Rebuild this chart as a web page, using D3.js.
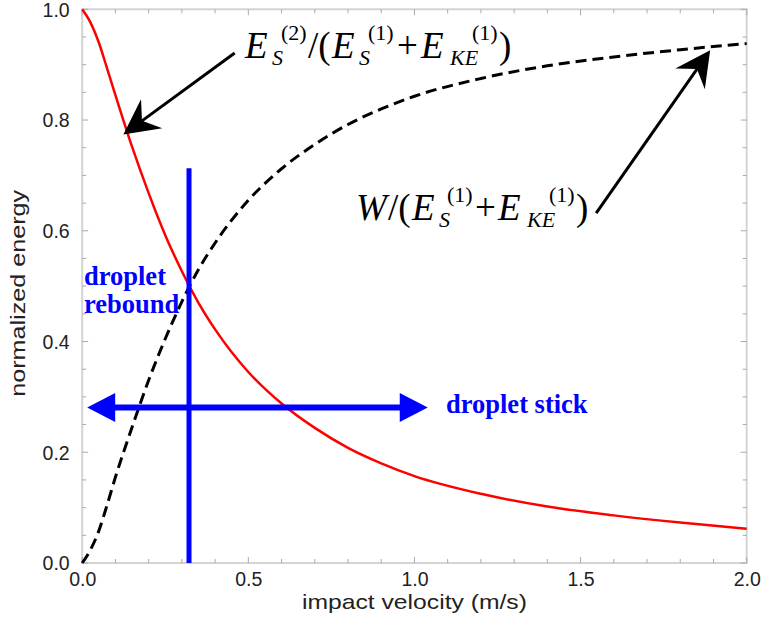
<!DOCTYPE html>
<html>
<head>
<meta charset="utf-8">
<script src="https://cdn.jsdelivr.net/npm/d3@7"></script>
<style>
  html, body { margin: 0; padding: 0; background: #fff; }
  svg { display: block; }
</style>
</head>
<body>
<svg id="chart" width="762" height="623"></svg>
<script>
// Impact velocity samples (m/s)
const velocity = [0, 0.025, 0.05, 0.075, 0.1, 0.15, 0.2, 0.25, 0.3, 0.35, 0.4, 0.5, 0.6, 0.7, 0.8, 0.9, 1.0, 1.2, 1.4, 1.6, 1.8, 2.0];
// Surface energy after impact, normalized by initial surface + kinetic energy
const surfaceRatio = [1.0, 0.976, 0.94, 0.893, 0.845, 0.752, 0.668, 0.592, 0.527, 0.47, 0.422, 0.345, 0.288, 0.244, 0.208, 0.18, 0.157, 0.125, 0.102, 0.086, 0.073, 0.062];
// Work done, normalized by initial surface + kinetic energy
const workRatio = [0.0, 0.024, 0.058, 0.105, 0.155, 0.245, 0.33, 0.405, 0.472, 0.53, 0.578, 0.655, 0.712, 0.756, 0.792, 0.82, 0.843, 0.875, 0.898, 0.914, 0.927, 0.938];

const xTickValues = [0, 0.5, 1.0, 1.5, 2.0];
const xTickLabels = ["0.0", "0.5", "1.0", "1.5", "2.0"];
const yTickValues = [0, 0.2, 0.4, 0.6, 0.8, 1.0];
const yTickLabels = ["0.0", "0.2", "0.4", "0.6", "0.8", "1.0"];

// Regime boundary: rebound / stick
const boundaryVelocity = [0.3215];
const boundaryTop = [0.713];
const stickArrowLevel = [0.281];
const stickArrowSpan = [0.015, 1.04];

const svg = d3.select("#chart");
const x = d3.scaleLinear().domain([0, 2]).range([82.2, 746.7]);
const y = d3.scaleLinear().domain([0, 1]).range([563, 9.3]);

const frameColor = "#d4d4d4";
const tickColor = "#aaaaaa";

// Plot frame
svg.append("rect")
  .attr("x", x(0)).attr("y", y(1))
  .attr("width", x(2) - x(0)).attr("height", y(0) - y(1))
  .attr("fill", "none").attr("stroke", frameColor).attr("stroke-width", 2);

// Minor / major ticks on all four sides, pointing inward
const xMinor = d3.range(0, 2.0001, 0.1);
const yMinor = d3.range(0, 1.0001, 0.05);
const tickG = svg.append("g").attr("stroke", tickColor).attr("stroke-width", 1);
xMinor.forEach(v => {
  const major = Math.abs(v * 2 - Math.round(v * 2)) < 1e-6;
  const len = major ? 6 : 4;
  tickG.append("line").attr("x1", x(v)).attr("x2", x(v)).attr("y1", y(0)).attr("y2", y(0) - len);
  tickG.append("line").attr("x1", x(v)).attr("x2", x(v)).attr("y1", y(1)).attr("y2", y(1) + len);
});
yMinor.forEach(v => {
  const major = Math.abs(v * 5 - Math.round(v * 5)) < 1e-6;
  const len = major ? 6 : 4;
  tickG.append("line").attr("y1", y(v)).attr("y2", y(v)).attr("x1", x(0)).attr("x2", x(0) + len);
  tickG.append("line").attr("y1", y(v)).attr("y2", y(v)).attr("x1", x(2)).attr("x2", x(2) - len);
});

// Axes (labels only; the frame draws the lines)
const xAxis = d3.axisBottom(x).tickValues(xTickValues).tickFormat((d, i) => xTickLabels[i]).tickSize(0).tickPadding(0);
const yAxis = d3.axisLeft(y).tickValues(yTickValues).tickFormat((d, i) => yTickLabels[i]).tickSize(0).tickPadding(0);

const gx = svg.append("g").attr("transform", `translate(0,${y(0)})`).call(xAxis);
const gy = svg.append("g").attr("transform", `translate(${x(0)},0)`).call(yAxis);
[gx, gy].forEach(g => {
  g.select(".domain").remove();
  g.selectAll("text")
    .attr("font-family", "'Liberation Sans', Arial, sans-serif")
    .attr("font-size", 19.5)
    .attr("fill", "#222");
});
gx.selectAll("text").attr("y", 23).attr("dy", 0);
gy.selectAll("text").attr("x", -12.5).attr("dy", "0.35em");

// Axis titles
svg.append("text")
  .attr("x", x(1.0)).attr("y", 608.5)
  .attr("text-anchor", "middle")
  .attr("font-family", "'Liberation Sans', Arial, sans-serif")
  .attr("font-size", 21)
  .attr("fill", "#222")
  .attr("textLength", 225).attr("lengthAdjust", "spacingAndGlyphs")
  .text("impact velocity (m/s)");

svg.append("text")
  .attr("transform", `translate(25,${y(0.487)}) rotate(-90)`)
  .attr("text-anchor", "middle")
  .attr("font-family", "'Liberation Sans', Arial, sans-serif")
  .attr("font-size", 19.5)
  .attr("fill", "#222")
  .attr("textLength", 207).attr("lengthAdjust", "spacingAndGlyphs")
  .text("normalized energy");

// Curves
const line = d3.line()
  .x(d => x(d[0]))
  .y(d => y(d[1]))
  .curve(d3.curveMonotoneX);

const surfacePts = velocity.map((v, i) => [v, surfaceRatio[i]]);
const workPts = velocity.map((v, i) => [v, workRatio[i]]);

svg.append("path")
  .attr("d", line(workPts))
  .attr("fill", "none").attr("stroke", "#000").attr("stroke-width", 3)
  .attr("stroke-dasharray", "11,6");

svg.append("path")
  .attr("d", line(surfacePts))
  .attr("fill", "none").attr("stroke", "#ff0000").attr("stroke-width", 2.5);

// Regime annotations (blue)
const blue = "#0000ff";
svg.append("line")
  .attr("x1", x(boundaryVelocity[0])).attr("x2", x(boundaryVelocity[0]))
  .attr("y1", y(boundaryTop[0])).attr("y2", y(0))
  .attr("stroke", blue).attr("stroke-width", 5);

const ay = y(stickArrowLevel[0]);
const ax0 = x(stickArrowSpan[0]);
const ax1 = x(stickArrowSpan[1]);
const headLen = 28, headHalf = 14.5;
svg.append("line")
  .attr("x1", ax0 + headLen - 2).attr("x2", ax1 - headLen + 2)
  .attr("y1", ay).attr("y2", ay)
  .attr("stroke", blue).attr("stroke-width", 6);
svg.append("path")
  .attr("d", `M${ax0},${ay} L${ax0 + headLen},${ay - headHalf} L${ax0 + headLen},${ay + headHalf} Z`)
  .attr("fill", blue);
svg.append("path")
  .attr("d", `M${ax1},${ay} L${ax1 - headLen},${ay - headHalf} L${ax1 - headLen},${ay + headHalf} Z`)
  .attr("fill", blue);

const serifBold = { "font-family": "'Liberation Serif', 'Times New Roman', serif", "font-weight": "bold", "font-size": 26.5, "fill": blue };
function styled(sel, s) { Object.entries(s).forEach(([k, v]) => sel.attr(k, v)); return sel; }
styled(svg.append("text").attr("x", 446).attr("y", 413).text("droplet stick"), serifBold);
styled(svg.append("text").attr("x", 84).attr("y", 285).text("droplet"), serifBold);
styled(svg.append("text").attr("x", 84).attr("y", 313).text("rebound"), serifBold);

// Black pointer arrows with notched heads
function pointer(x0, y0, x1, y1) {
  const dx = x1 - x0, dy = y1 - y0;
  const L = Math.hypot(dx, dy);
  const ux = dx / L, uy = dy / L;
  const nx = -uy, ny = ux;
  const back = 35, half = 18, notch = 23;
  const bx = x1 - ux * back, by = y1 - uy * back;
  const p1 = [bx + nx * half, by + ny * half];
  const p2 = [bx - nx * half, by - ny * half];
  const pn = [x1 - ux * notch, y1 - uy * notch];
  svg.append("line")
    .attr("x1", x0).attr("y1", y0).attr("x2", pn[0]).attr("y2", pn[1])
    .attr("stroke", "#000").attr("stroke-width", 3);
  svg.append("path")
    .attr("d", `M${x1},${y1} L${p1[0]},${p1[1]} L${pn[0]},${pn[1]} L${p2[0]},${p2[1]} Z`)
    .attr("fill", "#000");
}
pointer(x(0.459), y(0.921), x(0.124), y(0.774));
pointer(x(1.547), y(0.632), x(1.89), y(0.926));

// Formula labels built from positioned pieces
const serif = "'Liberation Serif', 'Times New Roman', serif";
function formula(ox, oy, pieces) {
  const g = svg.append("g").attr("transform", `translate(${ox},${oy})`);
  pieces.forEach(p => {
    g.append("text")
      .attr("x", p.dx)
      .attr("y", p.kind === "sub" ? 7 : p.kind === "sup" ? -18 : 0)
      .attr("font-family", serif)
      .attr("font-size", p.kind === "main" ? 37 : 22)
      .attr("font-style", p.it ? "italic" : "normal")
      .attr("fill", "#000")
      .text(p.t);
  });
}
formula(245, 58, [
  { t: "E", dx: 0, kind: "main", it: true },
  { t: "S", dx: 27, kind: "sub", it: true },
  { t: "(2)", dx: 36, kind: "sup" },
  { t: "/(", dx: 63, kind: "main" },
  { t: "E", dx: 87, kind: "main", it: true },
  { t: "S", dx: 114, kind: "sub", it: true },
  { t: "(1)", dx: 123, kind: "sup" },
  { t: "+", dx: 152, kind: "main" },
  { t: "E", dx: 176, kind: "main", it: true },
  { t: "KE", dx: 205, kind: "sub", it: true },
  { t: "(1)", dx: 227, kind: "sup" },
  { t: ")", dx: 254, kind: "main" }
]);
formula(356, 220, [
  { t: "W", dx: 0, kind: "main", it: true },
  { t: "/(", dx: 32, kind: "main" },
  { t: "E", dx: 56, kind: "main", it: true },
  { t: "S", dx: 83, kind: "sub", it: true },
  { t: "(1)", dx: 91, kind: "sup" },
  { t: "+", dx: 119, kind: "main" },
  { t: "E", dx: 142, kind: "main", it: true },
  { t: "KE", dx: 171, kind: "sub", it: true },
  { t: "(1)", dx: 193, kind: "sup" },
  { t: ")", dx: 220, kind: "main" }
]);
</script>
</body>
</html>
